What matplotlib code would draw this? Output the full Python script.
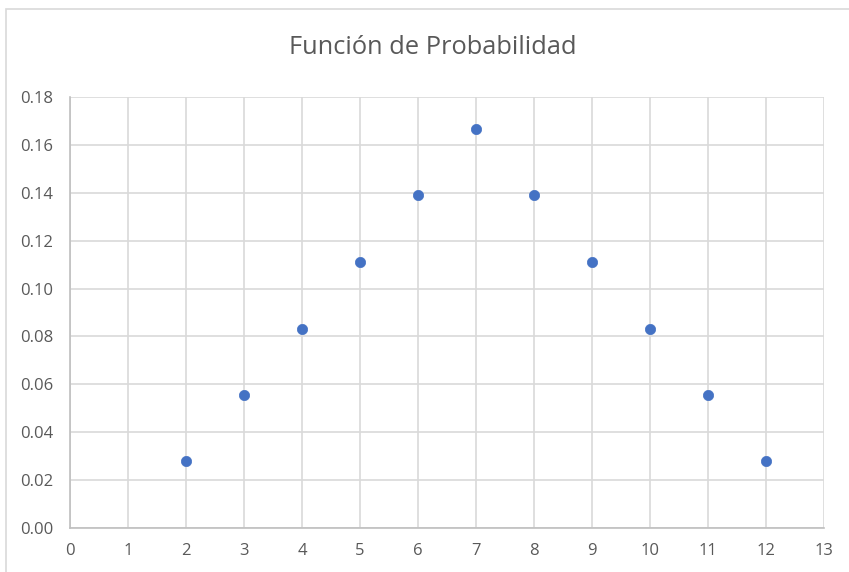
import matplotlib
matplotlib.use("Agg")
import matplotlib.pyplot as plt
from matplotlib.patches import Rectangle

x_values = [2, 3, 4, 5, 6, 7, 8, 9, 10, 11, 12]
probabilities = [0.0278, 0.0556, 0.0833, 0.1111, 0.1389, 0.1667,
                 0.1389, 0.1111, 0.0833, 0.0556, 0.0278]
x_ticks = list(range(0, 14))
y_ticks = [0.00, 0.02, 0.04, 0.06, 0.08, 0.10, 0.12, 0.14, 0.16, 0.18]
title = "Función de Probabilidad"

W, H = 849, 572
fig = plt.figure(figsize=(W / 100, H / 100), dpi=100)
fig.patch.set_facecolor("white")
plt.rcParams['font.family'] = ['Open Sans', 'DejaVu Sans']

# outer chart frame
fig.patches.append(Rectangle((6 / W, -0.1), 1.2, (H - 9) / H + 0.1,
                             transform=fig.transFigure, fill=False,
                             edgecolor="#d9d9d9", linewidth=1.2))

ax = fig.add_axes([70 / W, (H - 528) / H, 754 / W, 431 / H])
ax.set_xlim(0, 13)
ax.set_ylim(0, 0.18)
ax.set_xticks(x_ticks)
ax.set_yticks(y_ticks)
ax.set_yticklabels([f"{v:.2f}" for v in y_ticks])
ax.grid(True, color="#d9d9d9", linewidth=1.2)
ax.set_axisbelow(True)
for s in ["top", "right"]:
    ax.spines[s].set_visible(False)
for s in ["left", "bottom"]:
    ax.spines[s].set_color("#bfbfbf")
    ax.spines[s].set_linewidth(1.2)
ax.tick_params(length=0, labelsize=12, labelcolor="#595959")
ax.tick_params(axis="y", pad=12)
ax.tick_params(axis="x", pad=11)

ax.scatter(x_values, probabilities, s=55, color="#4472c4", zorder=3,
           edgecolors="#4472c4", linewidths=0.5, clip_on=False)

fig.text(433 / W, 1 - 47 / H, title, ha="center", va="center",
         fontsize=18.3, color="#595959")

fig.savefig("out.png", dpi=100)
